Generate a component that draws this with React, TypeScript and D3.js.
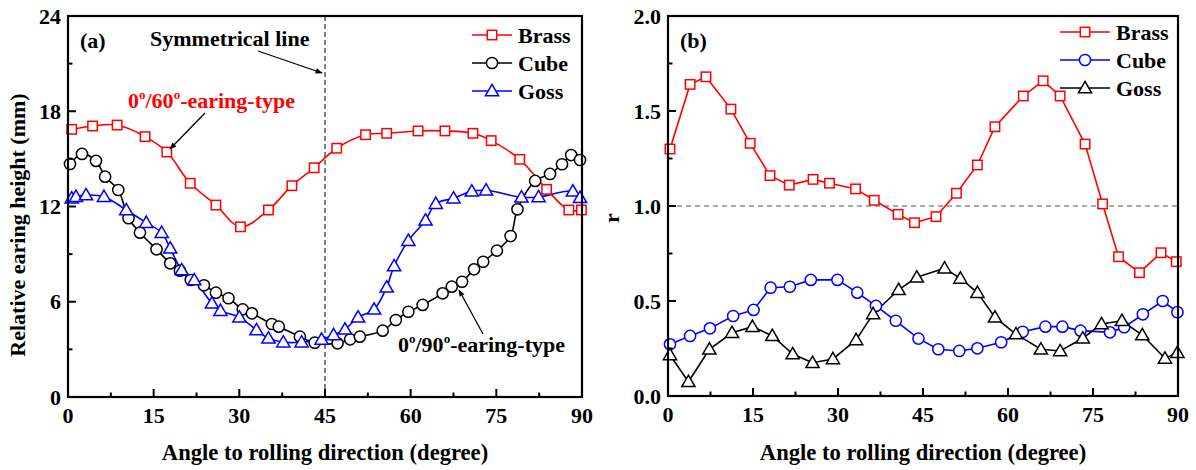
import React from 'react';
import * as d3 from 'd3';

const angleTicks = [0, 15, 30, 45, 60, 75, 90];
const angleMinor = [7.5, 22.5, 37.5, 52.5, 67.5, 82.5];
const heightTicks = [0, 6, 12, 18, 24];
const heightMinor = [3, 9, 15, 21];
const rTicks = [0, 0.5, 1.0, 1.5, 2.0];
const rMinor = [0.25, 0.75, 1.25, 1.75];
const seriesNames = ['Brass', 'Cube', 'Goss'];

type P = [number, number];

const brassA: P[] = [
  [0.65, 16.86], [4.3, 17.07], [8.6, 17.13], [13.5, 16.4], [17.3, 15.43], [21.4, 13.46],
  [25.9, 12.09], [30.2, 10.72], [35.1, 11.78], [39.2, 13.31], [43.1, 14.44], [47.05, 15.67],
  [52.1, 16.52], [55.8, 16.61], [61.3, 16.76], [66.0, 16.76], [70.9, 16.61], [74.1, 16.15],
  [79.1, 14.97], [83.8, 13.08], [87.7, 11.78], [89.9, 11.78],
];
const cubeA: P[] = [
  [0.35, 14.68], [2.45, 15.31], [4.9, 14.87], [6.5, 13.88], [8.8, 13.04], [10.6, 11.26],
  [12.6, 10.35], [15.5, 9.3], [17.9, 8.42], [19.6, 7.96], [21.5, 7.37], [23.8, 7.04],
  [25.9, 6.57], [28.1, 6.22], [30.6, 5.52], [32.2, 5.27], [35.7, 4.6], [36.9, 4.43],
  [40.6, 3.8], [43.2, 3.42], [47.2, 3.38], [49.4, 3.63], [51.1, 3.8], [55.1, 4.18],
  [57.4, 4.85], [59.6, 5.37], [62.1, 5.8], [65.6, 6.53], [67.2, 6.95], [69.0, 7.26],
  [71.1, 8.04], [72.7, 8.52], [75.1, 9.22], [77.5, 10.14], [78.7, 11.82], [81.8, 13.61],
  [84.4, 14.05], [86.5, 14.66], [88.1, 15.24], [89.65, 14.93],
];
const gossA: P[] = [
  [0.65, 12.52], [1.4, 12.62], [3.15, 12.72], [6.3, 12.62], [10.2, 11.78], [13.7, 10.98],
  [16.4, 10.35], [17.9, 9.37], [19.9, 8.0], [22.1, 7.37], [25.2, 5.9], [26.7, 5.44],
  [30.0, 5.02], [33.0, 4.22], [35.1, 3.7], [37.7, 3.45], [40.9, 3.45], [44.4, 3.63],
  [46.5, 3.91], [48.5, 4.26], [50.8, 5.02], [53.6, 5.52], [55.8, 6.91], [57.1, 8.25],
  [59.6, 9.85], [62.6, 11.13], [64.4, 12.18], [67.5, 12.52], [70.7, 12.96], [73.2, 13.02],
  [79.4, 12.58], [82.4, 12.6], [88.4, 12.96], [89.65, 12.55],
];

const brassB: P[] = [
  [0.35, 1.3], [3.9, 1.64], [6.7, 1.68], [11.1, 1.51], [14.5, 1.33], [18.0, 1.16],
  [21.4, 1.11], [25.6, 1.14], [28.5, 1.12], [33.1, 1.09], [36.4, 1.03], [40.6, 0.956],
  [43.5, 0.912], [47.3, 0.944], [50.9, 1.067], [54.6, 1.216], [57.7, 1.417], [62.7, 1.579],
  [66.2, 1.659], [69.2, 1.579], [73.6, 1.326], [76.7, 1.011], [79.5, 0.733], [83.2, 0.649],
  [87.0, 0.754], [89.7, 0.707],
];
const cubeB: P[] = [
  [0.35, 0.272], [3.9, 0.316], [7.4, 0.356], [11.5, 0.421], [15.1, 0.453], [18.1, 0.57],
  [21.5, 0.575], [25.2, 0.611], [29.9, 0.611], [33.4, 0.544], [36.7, 0.474], [40.2, 0.396],
  [44.2, 0.302], [47.7, 0.246], [51.4, 0.237], [54.6, 0.251], [58.8, 0.283], [62.6, 0.338],
  [66.6, 0.365], [69.6, 0.365], [72.8, 0.344], [78.0, 0.335], [80.5, 0.362], [83.8, 0.43],
  [87.3, 0.5], [89.9, 0.441],
];
const gossB: P[] = [
  [0.35, 0.216], [3.6, 0.075], [7.3, 0.246], [11.3, 0.333], [14.9, 0.365], [18.4, 0.317],
  [22.0, 0.221], [25.5, 0.175], [29.1, 0.195], [33.2, 0.295], [36.2, 0.432], [40.7, 0.559],
  [43.9, 0.625], [48.8, 0.672], [51.6, 0.619], [54.6, 0.544], [57.7, 0.414], [61.4, 0.326],
  [65.8, 0.246], [69.2, 0.237], [73.2, 0.304], [76.5, 0.379], [80.1, 0.396], [83.7, 0.321],
  [87.7, 0.198], [89.9, 0.228],
];

const FONT = '"Liberation Serif", "Times New Roman", serif';
const RED = '#ff0000';
const BLUE = '#0000ff';
const BLACK = '#000000';

type Shape = 'square' | 'circle' | 'triangle';

function Marker({ shape, x, y, color }: { shape: Shape; x: number; y: number; color: string }) {
  if (shape === 'square') {
    return <rect x={x - 4.7} y={y - 4.7} width={9.4} height={9.4} fill="white" stroke={color} strokeWidth={1.5} />;
  }
  if (shape === 'circle') {
    return <circle cx={x} cy={y} r={5.6} fill="white" stroke={color} strokeWidth={1.5} />;
  }
  const s = 6.6;
  return (
    <path
      d={`M${x},${y - s} L${x + s},${y + s * 0.72} L${x - s},${y + s * 0.72} Z`}
      fill="white"
      stroke={color}
      strokeWidth={1.5}
    />
  );
}

type Series = { data: P[]; shape: Shape; color: string; name: string };

function Panel({
  x0, x1, y0, y1, yDomain, yTicks, yMinor, yFmt, series, curve, legendX, legendY, legendLen,
  label, yTitle, yTitleX, yTitleY,
}: {
  x0: number; x1: number; y0: number; y1: number; yDomain: [number, number];
  yTicks: number[]; yMinor: number[]; yFmt: (v: number) => string; series: Series[];
  curve: d3.CurveFactory; legendX: number; legendY: number; legendLen: number; label: string;
  yTitle: string; yTitleX: number; yTitleY: number;
}) {
  const xs = d3.scaleLinear().domain([0, 90]).range([x0, x1]);
  const ys = d3.scaleLinear().domain(yDomain).range([y0, y1]);
  const line = d3.line<P>().x((d) => xs(d[0])).y((d) => ys(d[1])).curve(curve);
  return (
    <g>
      {series.map((s) => (
        <path key={s.name + 'l'} d={line(s.data) || ''} fill="none" stroke={s.color} strokeWidth={1.6} />
      ))}
      {series.map((s) => (
        <g key={s.name + 'm'}>
          {s.data.map((d, i) => (
            <Marker key={i} shape={s.shape} x={xs(d[0])} y={ys(d[1])} color={s.color} />
          ))}
        </g>
      ))}
      <rect x={x0} y={y1} width={x1 - x0} height={y0 - y1} fill="none" stroke="black" strokeWidth={2.2} />
      {angleTicks.map((t) => (
        <g key={'xt' + t}>
          <line x1={xs(t)} x2={xs(t)} y1={y0} y2={y0 - 8} stroke="black" strokeWidth={2} />
          <text x={xs(t)} y={y0 + 26} textAnchor="middle" fontFamily={FONT} fontWeight="bold" fontSize={22}>
            {t}
          </text>
        </g>
      ))}
      {angleMinor.map((t) => (
        <line key={'xm' + t} x1={xs(t)} x2={xs(t)} y1={y0} y2={y0 - 4.5} stroke="black" strokeWidth={2} />
      ))}
      {yTicks.map((t) => (
        <g key={'yt' + t}>
          <line x1={x0} x2={x0 + 8} y1={ys(t)} y2={ys(t)} stroke="black" strokeWidth={2} />
          <text x={x0 - 7} y={ys(t) + 7.5} textAnchor="end" fontFamily={FONT} fontWeight="bold" fontSize={22}>
            {yFmt(t)}
          </text>
        </g>
      ))}
      {yMinor.map((t) => (
        <line key={'ym' + t} x1={x0} x2={x0 + 4.5} y1={ys(t)} y2={ys(t)} stroke="black" strokeWidth={2} />
      ))}
      <text x={(x0 + x1) / 2} y={460} textAnchor="middle" fontFamily={FONT} fontWeight="bold" fontSize={22.6}>
        Angle to rolling direction (degree)
      </text>
      <text
        transform={`translate(${yTitleX},${yTitleY}) rotate(-90)`}
        textAnchor="middle"
        fontFamily={FONT}
        fontWeight="bold"
        fontSize={22}
      >
        {yTitle}
      </text>
      <text x={x0 + 12} y={48} fontFamily={FONT} fontWeight="bold" fontSize={22}>
        {label}
      </text>
      {series.map((s, i) => {
        const ly = legendY + i * 28;
        return (
          <g key={s.name + 'lg'}>
            <line x1={legendX} x2={legendX + legendLen} y1={ly} y2={ly} stroke={s.color} strokeWidth={1.6} />
            <Marker shape={s.shape} x={legendX + legendLen / 2} y={ly} color={s.color} />
            <text x={legendX + legendLen + 6} y={ly + 7.5} fontFamily={FONT} fontWeight="bold" fontSize={22}>
              {seriesNames[i]}
            </text>
          </g>
        );
      })}
    </g>
  );
}

export default function App() {
  const xa = d3.scaleLinear().domain([0, 90]).range([68, 582]);
  const yb = d3.scaleLinear().domain([0, 2]).range([396, 16]);
  return (
    <svg width={1196} height={470} style={{ position: 'absolute', left: 0, top: 0, background: 'white' }}>
      <defs>
        <marker id="arr" viewBox="0 0 10 10" refX="9" refY="5" markerWidth="9" markerHeight="7" orient="auto-start-reverse" markerUnits="userSpaceOnUse">
          <path d="M0,1 L10,5 L0,9 Z" fill="black" />
        </marker>
      </defs>
      <rect x={0} y={0} width={1196} height={470} fill="white" />
      <line x1={xa(45)} x2={xa(45)} y1={16} y2={397} stroke="black" strokeWidth={1} strokeDasharray="5,3" />
      <line x1={668} x2={1178} y1={yb(1)} y2={yb(1)} stroke="#555" strokeWidth={1.2} strokeDasharray="5,4" />
      <Panel
        x0={68} x1={582} y0={397} y1={16} yDomain={[0, 24]} yTicks={heightTicks} yMinor={heightMinor}
        yFmt={(v) => String(v)}
        series={[
          { data: brassA, shape: 'square', color: RED, name: 'Brass' },
          { data: cubeA, shape: 'circle', color: BLACK, name: 'Cube' },
          { data: gossA, shape: 'triangle', color: BLUE, name: 'Goss' },
        ]}
        curve={d3.curveCatmullRom.alpha(0.5)}
        legendX={472} legendY={35} legendLen={40} label="(a)" yTitle="Relative earing height (mm)"
        yTitleX={25} yTitleY={225}
      />
      <Panel
        x0={668} x1={1178} y0={396} y1={16} yDomain={[0, 2]} yTicks={rTicks} yMinor={rMinor}
        yFmt={d3.format('.1f')}
        series={[
          { data: brassB, shape: 'square', color: RED, name: 'Brass' },
          { data: cubeB, shape: 'circle', color: BLUE, name: 'Cube' },
          { data: gossB, shape: 'triangle', color: BLACK, name: 'Goss' },
        ]}
        curve={d3.curveLinear}
        legendX={1060} legendY={32} legendLen={50} label="(b)" yTitle="r" yTitleX={619} yTitleY={218}
      />
      <text x={150} y={46} fontFamily={FONT} fontWeight="bold" fontSize={22}>Symmetrical line</text>
      <line x1={258} y1={51} x2={322} y2={73} stroke="black" strokeWidth={1.3} markerEnd="url(#arr)" />
      <text x={128} y={108} fontFamily={FONT} fontWeight="bold" fontSize={22} fill={RED}>
        0<tspan dy={-9} fontSize={13}>o</tspan><tspan dy={9}>/60</tspan><tspan dy={-9} fontSize={13}>o</tspan><tspan dy={9}>-earing-type</tspan>
      </text>
      <line x1={205} y1={113} x2={170} y2={149} stroke="black" strokeWidth={1.3} markerEnd="url(#arr)" />
      <text x={398} y={352} fontFamily={FONT} fontWeight="bold" fontSize={22} fill={BLACK}>
        0<tspan dy={-9} fontSize={13}>o</tspan><tspan dy={9}>/90</tspan><tspan dy={-9} fontSize={13}>o</tspan><tspan dy={9}>-earing-type</tspan>
      </text>
      <line x1={483} y1={334} x2={459} y2={290} stroke="black" strokeWidth={1.3} markerEnd="url(#arr)" />
    </svg>
  );
}
